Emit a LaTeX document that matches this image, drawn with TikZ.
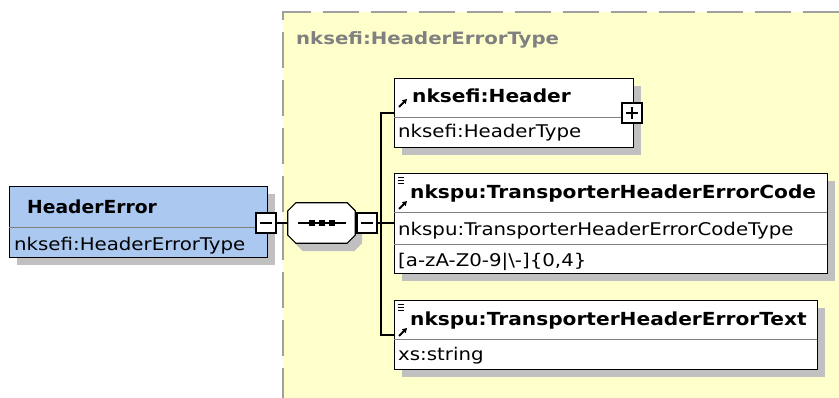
\documentclass[tikz,border=0pt]{standalone}
\usepackage{fontspec}
\setmainfont{DejaVu Sans}
\usetikzlibrary{calc,arrows.meta}
\definecolor{bgyellow}{RGB}{255,255,204}
\definecolor{dashgray}{RGB}{160,160,160}
\definecolor{shadowgray}{RGB}{192,192,192}
\definecolor{elblue}{RGB}{170,200,240}
\definecolor{titlegray}{RGB}{128,128,128}
\definecolor{divgray}{RGB}{128,128,128}
\newcommand\hsb[1]{\scalebox{1.12}[1]{#1}}
\newcommand\hsr[1]{\scalebox{1.13}[1]{#1}}
\tikzset{
  elbox/.style={draw=black, line width=1.4pt, fill=white, inner sep=0pt, anchor=north west},
  divider/.style={draw=divgray, line width=0.9pt},
  conn/.style={draw=black, line width=1.4pt},
  smallbox/.style={draw=black, line width=1.2pt, fill=white, inner sep=0pt, minimum width=20pt, minimum height=20pt},
  boldtxt/.style={anchor=base west, inner sep=0pt, font=\fontsize{18}{18}\selectfont\bfseries},
  regtxt/.style={anchor=base west, inner sep=0pt, font=\fontsize{17.5}{17.5}\selectfont},
  icon/.style={line width=1.8pt, -{Triangle[length=4.5pt,width=5pt]}},
}
\begin{document}
\begin{tikzpicture}[x=1pt,y=-1pt]
\useasboundingbox (0,0) rectangle (839,398);
% background group area
\fill[bgyellow] (283,12) rectangle (839,398);
\draw[dashgray, line width=2pt, dash pattern=on 36pt off 12pt] (839,12) -- (283,12) -- (283,398);
\node[anchor=base west, inner sep=0pt, text=titlegray, font=\fontsize{17}{17}\selectfont\bfseries] (grp) at (296,45) {\scalebox{1.16}[1]{nksefi:HeaderErrorType}};

% HeaderError element
\fill[shadowgray] (17,194) rectangle (275,265);
\node[elbox, fill=elblue, minimum width=258pt, minimum height=71pt] (he) at (9,186) {};
\draw[divider] (9,227) -- (267,227);
\node[boldtxt] (het) at (27,214) {\scalebox{1.04}[1]{HeaderError}};
\node[regtxt] (hety) at (14,251) {\hsr{nksefi:HeaderErrorType}};

% sequence compositor
\node[draw=none, inner sep=0pt, minimum width=67pt, minimum height=40pt] (seq) at (321.5,223) {};
\fill[shadowgray] ($(seq.north west)+(8+7,8)$) -- ($(seq.north east)+(-8+7,8)$) -- ($(seq.north east)+(7,8+8)$) -- ($(seq.south east)+(7,-8+8)$) -- ($(seq.south east)+(-8+7,8)$) -- ($(seq.south west)+(8+7,8)$) -- ($(seq.south west)+(7,-8+8)$) -- ($(seq.north west)+(7,8+8)$) -- cycle;
\draw[black, line width=1.2pt, fill=white] ($(seq.north west)+(8,0)$) -- ($(seq.north east)+(-8,0)$) -- ($(seq.north east)+(0,8)$) -- ($(seq.south east)+(0,-8)$) -- ($(seq.south east)+(-8,0)$) -- ($(seq.south west)+(8,0)$) -- ($(seq.south west)+(0,-8)$) -- ($(seq.north west)+(0,8)$) -- cycle;
\draw[black, line width=1.2pt] (298,223) -- (346,223);
\foreach \cx in {312,322,332} \fill[black] (\cx-3,220) rectangle (\cx+3,226);

% minus boxes
\node[smallbox] (m1) at (266,223) {};
\draw[black, line width=1.2pt] (260,223) -- (272,223);
\node[smallbox] (m2) at (367,223) {};
\draw[black, line width=1.2pt] (361,223) -- (373,223);

% bus
\coordinate (bus) at (381,223);
\coordinate (busTop) at (381,113);
\coordinate (busBot) at (381,335);

% Header element
\fill[shadowgray] (402,86) rectangle (641,155);
\node[elbox, minimum width=239pt, minimum height=69pt] (hdr) at (394,78) {};
\draw[divider] (394,117) -- (633,117);
\node[boldtxt] (hdrt) at (412,103) {\hsb{nksefi:Header}};
\node[regtxt] (hdrty) at (398,138) {\hsr{nksefi:HeaderType}};
\draw[icon] (399,107) -- (407,99);
\node[smallbox] (p1) at (632,113) {};
\draw[black, line width=1.2pt] (626,113) -- (638,113) (632,107) -- (632,119);

% Code element
\fill[shadowgray] (402,181) rectangle (835,281);
\node[elbox, minimum width=433pt, minimum height=100pt] (code) at (394,173) {};
\draw[divider] (394,212) -- (827,212);
\draw[divider] (394,244) -- (827,244);
\node[boldtxt] (codet) at (410,199) {\hsb{nkspu:TransporterHeaderErrorCode}};
\node[regtxt] (codety) at (398,236) {\hsr{nkspu:TransporterHeaderErrorCodeType}};
\node[regtxt] (codepat) at (398,267) {\hsr{[a-zA-Z0-9|\textbackslash-]\{0,4\}}};
\draw[black, line width=0.8pt] (398,177) -- (404,177) (398,180) -- (404,180) (398,183) -- (404,183);
\draw[icon] (399,209) -- (407,201);

% Text element
\fill[shadowgray] (402,308) rectangle (825,377);
\node[elbox, minimum width=423pt, minimum height=69pt] (txt) at (394,300) {};
\draw[divider] (394,339) -- (817,339);
\node[boldtxt] (txtt) at (410,326) {\hsb{nkspu:TransporterHeaderErrorText}};
\node[regtxt] (txtty) at (398,361) {\hsr{xs:string}};
\draw[black, line width=0.8pt] (398,304) -- (404,304) (398,307) -- (404,307) (398,310) -- (404,310);
\draw[icon] (399,336) -- (407,328);

% connectors
\draw[conn] (m1.east) -- (seq.west);
\draw[conn] (seq.east) -- (m2.west);
\draw[conn] (m2.east) -- (bus);
\draw[conn] (busTop -| hdr.west) -- (busTop) -- (busBot) -- (busBot -| txt.west);
\draw[conn] (bus) -- (bus -| code.west);
\end{tikzpicture}
\end{document}
